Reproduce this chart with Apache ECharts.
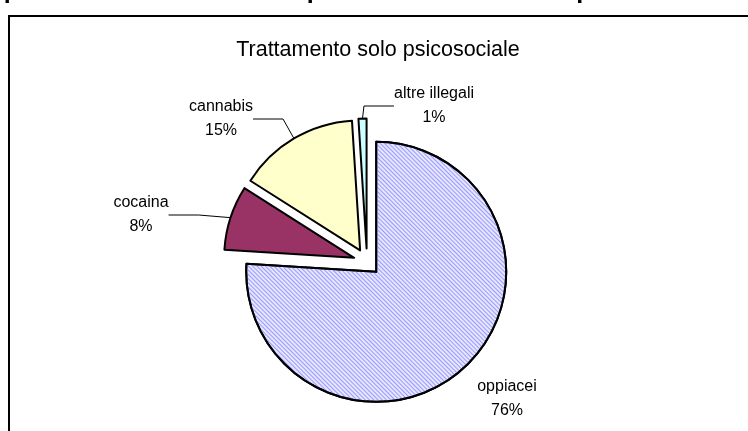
<!DOCTYPE html>
<html><head><meta charset="utf-8">
<script src="https://cdn.jsdelivr.net/npm/echarts@6/dist/echarts.min.js"></script>
<style>html,body{margin:0;padding:0;background:#fff}#c{width:748px;height:431px}</style>
</head><body><div id="c"></div>
<script>
// Trattamento solo psicosociale: quota per sostanza di abuso primaria
const categories = ['oppiacei', 'cocaina', 'cannabis', 'altre illegali'];
const shares = [76, 8, 15, 1];
const chartTitle = 'Trattamento solo psicosociale';
const headerText = 'psicosociali e riabilitativi per sostanza di abuso primaria. SerT';

const sliceColors = ['#e6e6ff', '#993366', '#ffffcc', '#ccffff'];
// label centres (px) for each slice
const labelPos = [[507, 399], [141, 215], [221, 119], [434, 106]];

const pieCenter = [367, 262];
const pieRadius = 130;
const explode = 13.5;

const total = shares.reduce((a, b) => a + b, 0);
let cum = 0;
// every slice is pulled out along its own bisector: one pie per slice
const series = categories.map((name, k) => {
  const mid = (cum + shares[k] / 2) / total * 2 * Math.PI;
  cum += shares[k];
  return {
    type: 'pie',
    center: [pieCenter[0] + explode * Math.sin(mid), pieCenter[1] - explode * Math.cos(mid)],
    radius: [0, pieRadius],
    startAngle: 90,
    clockwise: true,
    avoidLabelOverlap: false,
    silent: true,
    emphasis: { disabled: true },
    label: {
      show: true,
      formatter: p => p.name + '\n' + Math.round(p.value) + '%',
      fontFamily: 'Liberation Sans', fontSize: 16, lineHeight: 24, color: '#000'
    },
    labelLine: { show: k !== 0, lineStyle: { color: '#000', width: 1 } },
    labelLayout: p => p.dataIndex === k ? {
      x: labelPos[k][0], y: labelPos[k][1], align: 'center', verticalAlign: 'middle'
    } : {},
    data: categories.map((n, i) => i === k ? {
      name: n, value: shares[i],
      itemStyle: Object.assign({ color: sliceColors[i], borderColor: '#000', borderWidth: 2 }, i === 0 ? {
        decal: { symbol: 'rect', symbolSize: 1, color: '#9999ff',
                 dashArrayX: [1, 0], dashArrayY: [1, 2], rotation: Math.PI / 4 }
      } : {})
    } : {
      name: n, value: shares[i],
      itemStyle: { color: 'rgba(0,0,0,0)', borderWidth: 0 },
      label: { show: false }, labelLine: { show: false }
    })
  };
});

const chart = echarts.init(document.getElementById('c'), null, { renderer: 'canvas' });

chart.setOption({
  animation: false,
  backgroundColor: '#ffffff',
  title: {
    text: chartTitle,
    left: 373, top: 34,
    textAlign: 'center',
    textStyle: { fontFamily: 'Liberation Sans', fontSize: 21.5, fontWeight: 'normal', color: '#000' }
  },
  graphic: [
    { type: 'rect', shape: { x: 9, y: 16, width: 800, height: 500 },
      style: { fill: 'none', stroke: '#000', lineWidth: 2 }, silent: true },
    { type: 'text', x: 374, y: 4,
      style: { text: headerText, fontFamily: 'Liberation Sans', fontSize: 25, fontWeight: 'bold',
               fill: '#000', align: 'center', verticalAlign: 'bottom' }, silent: true }
  ],
  series: series
});
</script></body></html>
